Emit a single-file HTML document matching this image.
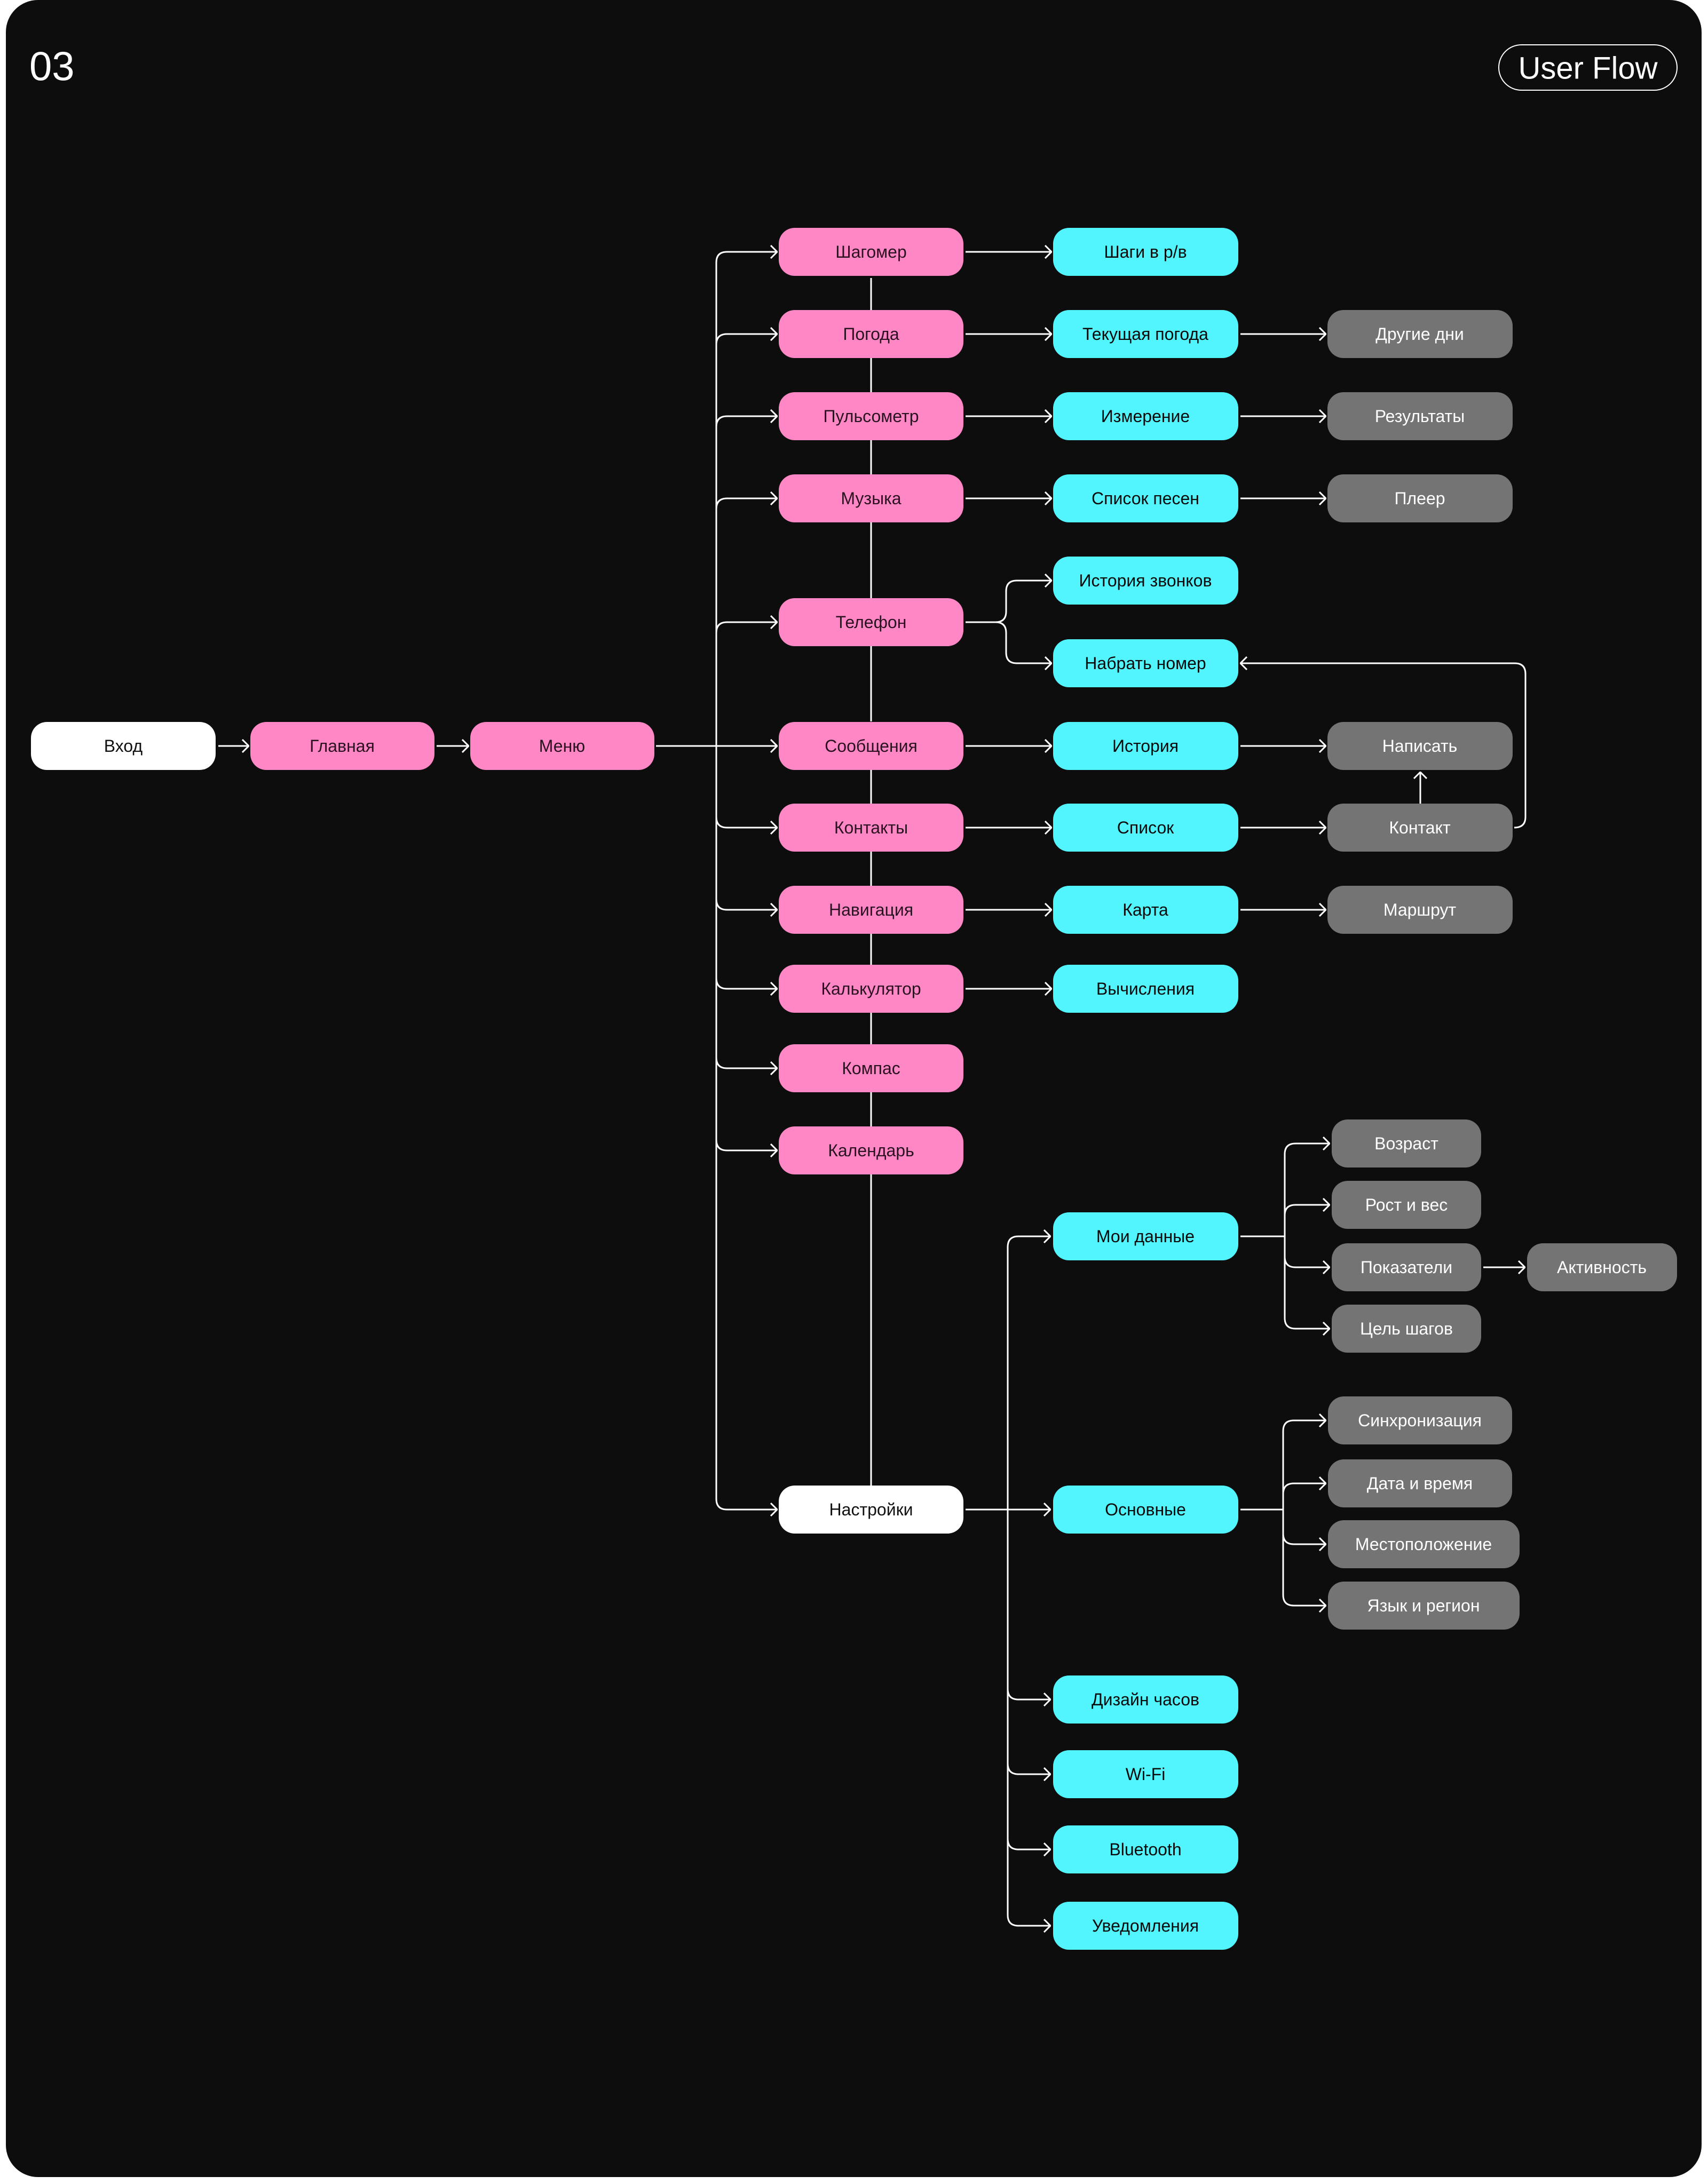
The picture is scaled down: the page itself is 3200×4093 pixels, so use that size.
<!DOCTYPE html>
<html><head><meta charset="utf-8"><style>
html,body{margin:0;padding:0;background:#fff;}
svg{display:block;}
text{font-family:"Liberation Sans","Noto Sans CJK SC",sans-serif;}
</style></head><body>
<svg width="3200" height="4093" viewBox="0 0 3200 4093" xmlns="http://www.w3.org/2000/svg">
<defs>
<marker id="a" viewBox="0 0 14 26" refX="13" refY="13" markerWidth="14" markerHeight="26" markerUnits="userSpaceOnUse" orient="auto">
<path d="M1,1 L13,13 L1,25" fill="none" stroke="#fff" stroke-width="3"/>
</marker>
</defs>
<rect x="0" y="0" width="3200" height="4093" fill="#fff"/>
<rect x="11" y="0" width="3177" height="4080" rx="60" fill="#0d0d0d"/>
<text x="55" y="125" font-size="76" fill="#fff" dominant-baseline="central" font-weight="300">03</text>
<rect x="2808" y="84" width="334" height="85" rx="42.5" fill="none" stroke="#fff" stroke-width="2"/>
<text x="2975" y="128" font-size="58" fill="#fff" text-anchor="middle" dominant-baseline="central">User Flow</text>

<g fill="none" stroke="#fff" stroke-width="3">
<!-- pink column vertical line -->
<path d="M1632 521 V1121 M1632 1211 V1352 M1632 1442 V1660 M1632 1750 V1808 M1632 1898 V1957 M1632 2047 V2111 M1632 2201 V2784"/>
<!-- entry chain -->
<path d="M409 1398 H466" marker-end="url(#a)"/>
<path d="M818 1398 H878" marker-end="url(#a)"/>
<path d="M1229 1398 H1456" marker-end="url(#a)"/>
<!-- trunk -->
<path d="M1342 492 V2809"/>
<path d="M1342 492 Q1342 472 1362 472 H1456" marker-end="url(#a)"/>
<path d="M1342 646 Q1342 626 1362 626 H1456" marker-end="url(#a)"/>
<path d="M1342 800 Q1342 780 1362 780 H1456" marker-end="url(#a)"/>
<path d="M1342 954 Q1342 934 1362 934 H1456" marker-end="url(#a)"/>
<path d="M1342 1186 Q1342 1166 1362 1166 H1456" marker-end="url(#a)"/>
<path d="M1342 1531 Q1342 1551 1362 1551 H1456" marker-end="url(#a)"/>
<path d="M1342 1685 Q1342 1705 1362 1705 H1456" marker-end="url(#a)"/>
<path d="M1342 1833 Q1342 1853 1362 1853 H1456" marker-end="url(#a)"/>
<path d="M1342 1982 Q1342 2002 1362 2002 H1456" marker-end="url(#a)"/>
<path d="M1342 2136 Q1342 2156 1362 2156 H1456" marker-end="url(#a)"/>
<path d="M1342 2809 Q1342 2829 1362 2829 H1456" marker-end="url(#a)"/>
<!-- pink -> cyan -->
<path d="M1809 472 H1970" marker-end="url(#a)"/>
<path d="M1809 626 H1970" marker-end="url(#a)"/>
<path d="M1809 780 H1970" marker-end="url(#a)"/>
<path d="M1809 934 H1970" marker-end="url(#a)"/>
<path d="M1809 1398 H1970" marker-end="url(#a)"/>
<path d="M1809 1551 H1970" marker-end="url(#a)"/>
<path d="M1809 1705 H1970" marker-end="url(#a)"/>
<path d="M1809 1853 H1970" marker-end="url(#a)"/>
<!-- phone branch -->
<path d="M1809 1166 H1865 Q1885 1166 1885 1146 V1108 Q1885 1088 1905 1088 H1970" marker-end="url(#a)"/>
<path d="M1865 1166 Q1885 1166 1885 1186 V1223 Q1885 1243 1905 1243 H1970" marker-end="url(#a)"/>
<!-- cyan -> gray -->
<path d="M2324 626 H2484" marker-end="url(#a)"/>
<path d="M2324 780 H2484" marker-end="url(#a)"/>
<path d="M2324 934 H2484" marker-end="url(#a)"/>
<path d="M2324 1398 H2484" marker-end="url(#a)"/>
<path d="M2324 1551 H2484" marker-end="url(#a)"/>
<path d="M2324 1705 H2484" marker-end="url(#a)"/>
<!-- contact up -->
<path d="M2661 1506 V1447" marker-end="url(#a)"/>
<!-- loop back -->
<path d="M2837 1551 Q2858 1551 2858 1531 V1263 Q2858 1243 2838 1243 H2324" marker-end="url(#a)"/>
<!-- settings -->
<path d="M1809 2829 H1968" marker-end="url(#a)"/>
<path d="M1888 2337 V3589"/>
<path d="M1888 2337 Q1888 2317 1908 2317 H1968" marker-end="url(#a)"/>
<path d="M1888 3165 Q1888 3185 1908 3185 H1968" marker-end="url(#a)"/>
<path d="M1888 3305 Q1888 3325 1908 3325 H1968" marker-end="url(#a)"/>
<path d="M1888 3446 Q1888 3466 1908 3466 H1968" marker-end="url(#a)"/>
<path d="M1888 3589 Q1888 3609 1908 3609 H1968" marker-end="url(#a)"/>
<!-- my data -->
<path d="M2324 2317 H2407"/>
<path d="M2407 2163 V2470"/>
<path d="M2407 2163 Q2407 2143 2427 2143 H2491" marker-end="url(#a)"/>
<path d="M2407 2278 Q2407 2258 2427 2258 H2491" marker-end="url(#a)"/>
<path d="M2407 2355 Q2407 2375 2427 2375 H2491" marker-end="url(#a)"/>
<path d="M2407 2470 Q2407 2490 2427 2490 H2491" marker-end="url(#a)"/>
<path d="M2779 2375 H2857" marker-end="url(#a)"/>
<!-- basic -->
<path d="M2324 2829 H2404"/>
<path d="M2404 2682 V2989"/>
<path d="M2404 2682 Q2404 2662 2424 2662 H2484" marker-end="url(#a)"/>
<path d="M2404 2800 Q2404 2780 2424 2780 H2484" marker-end="url(#a)"/>
<path d="M2404 2874 Q2404 2894 2424 2894 H2484" marker-end="url(#a)"/>
<path d="M2404 2989 Q2404 3009 2424 3009 H2484" marker-end="url(#a)"/>
</g>

<!-- nodes -->
<g font-size="32" text-anchor="middle" dominant-baseline="central">
<rect x="58" y="1353" width="346" height="90" rx="30" fill="#fff"/><text x="231" y="1398" fill="#111">Вход</text>
<rect x="469" y="1353" width="345" height="90" rx="30" fill="#ff87c5"/><text x="641" y="1398" fill="#2a1220">Главная</text>
<rect x="881" y="1353" width="345" height="90" rx="30" fill="#ff87c5"/><text x="1053" y="1398" fill="#2a1220">Меню</text>

<g fill="#ff87c5">
<rect x="1459" y="427" width="346" height="90" rx="30"/>
<rect x="1459" y="581" width="346" height="90" rx="30"/>
<rect x="1459" y="735" width="346" height="90" rx="30"/>
<rect x="1459" y="889" width="346" height="90" rx="30"/>
<rect x="1459" y="1121" width="346" height="90" rx="30"/>
<rect x="1459" y="1353" width="346" height="90" rx="30"/>
<rect x="1459" y="1506" width="346" height="90" rx="30"/>
<rect x="1459" y="1660" width="346" height="90" rx="30"/>
<rect x="1459" y="1808" width="346" height="90" rx="30"/>
<rect x="1459" y="1957" width="346" height="90" rx="30"/>
<rect x="1459" y="2111" width="346" height="90" rx="30"/>
</g>
<rect x="1459" y="2784" width="346" height="90" rx="30" fill="#fff"/>
<g fill="#2a1220">
<text x="1632" y="472">Шагомер</text>
<text x="1632" y="626">Погода</text>
<text x="1632" y="780">Пульсометр</text>
<text x="1632" y="934">Музыка</text>
<text x="1632" y="1166">Телефон</text>
<text x="1632" y="1398">Сообщения</text>
<text x="1632" y="1551">Контакты</text>
<text x="1632" y="1705">Навигация</text>
<text x="1632" y="1853">Калькулятор</text>
<text x="1632" y="2002">Компас</text>
<text x="1632" y="2156">Календарь</text>
</g>
<text x="1632" y="2829" fill="#111">Настройки</text>

<g fill="#52f4fd">
<rect x="1973" y="427" width="347" height="90" rx="30"/>
<rect x="1973" y="581" width="347" height="90" rx="30"/>
<rect x="1973" y="735" width="347" height="90" rx="30"/>
<rect x="1973" y="889" width="347" height="90" rx="30"/>
<rect x="1973" y="1043" width="347" height="90" rx="30"/>
<rect x="1973" y="1198" width="347" height="90" rx="30"/>
<rect x="1973" y="1353" width="347" height="90" rx="30"/>
<rect x="1973" y="1506" width="347" height="90" rx="30"/>
<rect x="1973" y="1660" width="347" height="90" rx="30"/>
<rect x="1973" y="1808" width="347" height="90" rx="30"/>
<rect x="1973" y="2272" width="347" height="90" rx="30"/>
<rect x="1973" y="2784" width="347" height="90" rx="30"/>
<rect x="1973" y="3140" width="347" height="90" rx="30"/>
<rect x="1973" y="3280" width="347" height="90" rx="30"/>
<rect x="1973" y="3421" width="347" height="90" rx="30"/>
<rect x="1973" y="3564" width="347" height="90" rx="30"/>
</g>
<g fill="#0a0a0a">
<text x="2146" y="472">Шаги в р/в</text>
<text x="2146" y="626">Текущая погода</text>
<text x="2146" y="780">Измерение</text>
<text x="2146" y="934">Список песен</text>
<text x="2146" y="1088">История звонков</text>
<text x="2146" y="1243">Набрать номер</text>
<text x="2146" y="1398">История</text>
<text x="2146" y="1551">Список</text>
<text x="2146" y="1705">Карта</text>
<text x="2146" y="1853">Вычисления</text>
<text x="2146" y="2317">Мои данные</text>
<text x="2146" y="2829">Основные</text>
<text x="2146" y="3185">Дизайн часов</text>
<text x="2146" y="3325">Wi-Fi</text>
<text x="2146" y="3466">Bluetooth</text>
<text x="2146" y="3609">Уведомления</text>
</g>

<g fill="#747474">
<rect x="2487" y="581" width="347" height="90" rx="30"/>
<rect x="2487" y="735" width="347" height="90" rx="30"/>
<rect x="2487" y="889" width="347" height="90" rx="30"/>
<rect x="2487" y="1353" width="347" height="90" rx="30"/>
<rect x="2487" y="1506" width="347" height="90" rx="30"/>
<rect x="2487" y="1660" width="347" height="90" rx="30"/>
<rect x="2495" y="2098" width="280" height="90" rx="30"/>
<rect x="2495" y="2213" width="280" height="90" rx="30"/>
<rect x="2495" y="2330" width="280" height="90" rx="30"/>
<rect x="2495" y="2445" width="280" height="90" rx="30"/>
<rect x="2861" y="2330" width="281" height="90" rx="30"/>
<rect x="2488" y="2617" width="345" height="90" rx="30"/>
<rect x="2488" y="2735" width="345" height="90" rx="30"/>
<rect x="2488" y="2849" width="359" height="90" rx="30"/>
<rect x="2488" y="2964" width="359" height="90" rx="30"/>
</g>
<g fill="#fff">
<text x="2660" y="626">Другие дни</text>
<text x="2660" y="780">Результаты</text>
<text x="2660" y="934">Плеер</text>
<text x="2660" y="1398">Написать</text>
<text x="2660" y="1551">Контакт</text>
<text x="2660" y="1705">Маршрут</text>
<text x="2635" y="2143">Возраст</text>
<text x="2635" y="2258">Рост и вес</text>
<text x="2635" y="2375">Показатели</text>
<text x="2635" y="2490">Цель шагов</text>
<text x="3001" y="2375">Активность</text>
<text x="2660" y="2662">Синхронизация</text>
<text x="2660" y="2780">Дата и время</text>
<text x="2667" y="2894">Местоположение</text>
<text x="2667" y="3009">Язык и регион</text>
</g>
</g>
</svg>
</body></html>
